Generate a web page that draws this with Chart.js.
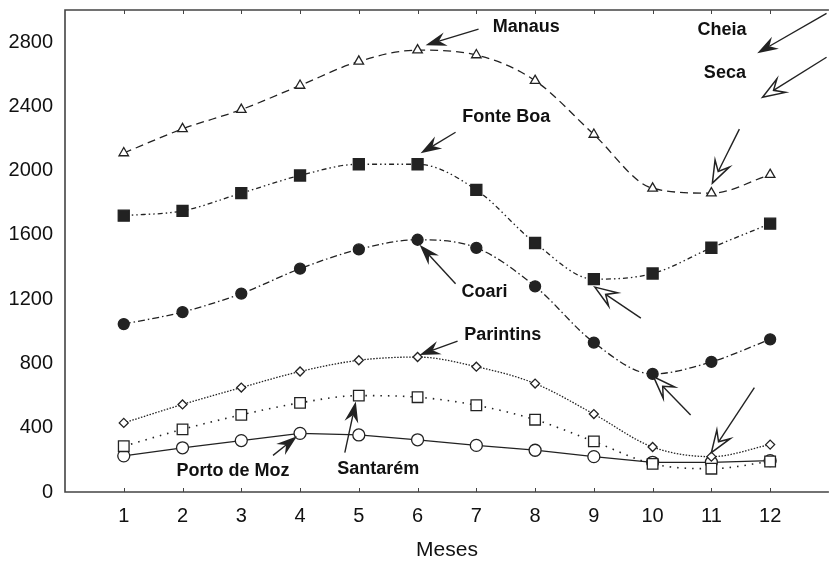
<!DOCTYPE html>
<html>
<head>
<meta charset="utf-8">
<title>Meses</title>
<script src="https://cdn.jsdelivr.net/npm/chart.js@4.4.1/dist/chart.umd.min.js"></script>
<style>
  html, body { margin: 0; padding: 0; background: #fff; overflow: hidden; }
  #wrap { width: 834px; height: 567px; overflow: hidden; }
</style>
</head>
<body>
<div id="wrap"><canvas id="myChart" width="838" height="567"></canvas></div>

<script>
// data
var meses = [1, 2, 3, 4, 5, 6, 7, 8, 9, 10, 11, 12];
var yTicks = [0, 400, 800, 1200, 1600, 2000, 2400, 2800];
var manaus = [2110, 2260, 2380, 2530, 2680, 2750, 2720, 2560, 2225, 1890, 1860, 1975];
var fonteBoa = [1720, 1750, 1860, 1970, 2040, 2040, 1880, 1550, 1325, 1360, 1520, 1670];
var coari = [1045, 1120, 1235, 1390, 1510, 1570, 1520, 1280, 930, 735, 810, 950];
var parintins = [430, 545, 650, 750, 820, 840, 780, 675, 485, 280, 220, 295];
var santarem = [285, 390, 480, 555, 600, 590, 540, 450, 315, 175, 145, 190];
var portoDeMoz = [225, 275, 320, 365, 355, 325, 290, 260, 220, 185, 185, 195];

var INK = '#222';

function pts(vals) {
  return vals.map(function (v, i) { return { x: meses[i], y: v }; });
}

// labels (value space)
var labels = [
  { text: 'Manaus', x: 7.85, y: 2892 },
  { text: 'Fonte Boa', x: 7.51, y: 2333 },
  { text: 'Coari', x: 7.14, y: 1244 },
  { text: 'Parintins', x: 7.45, y: 977 },
  { text: 'Porto de Moz', x: 2.86, y: 131 },
  { text: 'Santarém', x: 5.33, y: 143 },
  { text: 'Cheia', x: 11.18, y: 2874 },
  { text: 'Seca', x: 11.23, y: 2606 }
];

// arrows anchored to a data point (ds, i) with pixel offsets for tip and tail
var arrows = [
  { ds: 0, i: 5, tip: [8, -5], tail: [61, -21], filled: true },
  { ds: 1, i: 5, tip: [3, -11], tail: [38, -32], filled: true },
  { ds: 2, i: 5, tip: [2, 5], tail: [38, 44], filled: true },
  { ds: 3, i: 5, tip: [2, -2], tail: [40, -16], filled: true },
  { ds: 5, i: 3, tip: [-3, 3], tail: [-27, 22], filled: true },
  { ds: 4, i: 4, tip: [-3, 6], tail: [-14, 57], filled: true },
  { ds: 1, i: 8, tip: [1, 8], tail: [47, 39], filled: false },
  { ds: 2, i: 9, tip: [1, 3], tail: [38, 41], filled: false },
  { ds: 0, i: 10, tip: [1, -10], tail: [28, -64], filled: false },
  { ds: 3, i: 10, tip: [0, -4], tail: [43, -69], filled: false }
];
// key arrows (value space)
var keyArrows = [
  { tip: [11.78, 2731], tail: [12.96, 2979], filled: true },
  { tip: [11.87, 2457], tail: [12.96, 2706], filled: false }
];

function drawArrow(ctx, x0, y0, x1, y1, filled) {
  var ang = Math.atan2(y1 - y0, x1 - x0);
  var L = filled ? 21 : 22, hw = filled ? 7 : 8, notch = filled ? 7 : 9;
  ctx.save();
  ctx.strokeStyle = INK;
  ctx.lineWidth = 1.4;
  ctx.lineJoin = 'miter';
  ctx.setLineDash([]);
  ctx.beginPath();
  ctx.moveTo(x0, y0);
  ctx.lineTo(x1 - Math.cos(ang) * (L - notch), y1 - Math.sin(ang) * (L - notch));
  ctx.stroke();
  ctx.translate(x1, y1);
  ctx.rotate(ang);
  ctx.beginPath();
  ctx.moveTo(0, 0);
  ctx.lineTo(-L, -hw);
  ctx.lineTo(-(L - notch), 0);
  ctx.lineTo(-L, hw);
  ctx.closePath();
  if (filled) {
    ctx.fillStyle = INK;
    ctx.fill();
  } else {
    ctx.fillStyle = '#fff';
    ctx.fill();
    ctx.lineWidth = 1.5;
    ctx.stroke();
  }
  ctx.restore();
}

var frame = {
  id: 'frame',
  afterDatasetsDraw: function (chart) {
    var ctx = chart.ctx, a = chart.chartArea;
    var xs = chart.scales.x, ys = chart.scales.y;
    ctx.save();
    ctx.strokeStyle = '#444';
    ctx.lineWidth = 1.6;
    ctx.beginPath();
    ctx.moveTo(a.right, a.top);
    ctx.lineTo(a.left, a.top);
    ctx.lineTo(a.left, a.bottom);
    ctx.lineTo(a.right, a.bottom);
    ctx.stroke();
    ctx.lineWidth = 1;
    meses.forEach(function (m) {
      var px = Math.round(xs.getPixelForValue(m)) + 0.5;
      ctx.beginPath();
      ctx.moveTo(px, a.top); ctx.lineTo(px, a.top + 4);
      ctx.moveTo(px, a.bottom); ctx.lineTo(px, a.bottom - 4);
      ctx.stroke();
    });
    ctx.restore();

    arrows.forEach(function (ar) {
      var p = chart.getDatasetMeta(ar.ds).data[ar.i];
      drawArrow(ctx, p.x + ar.tail[0], p.y + ar.tail[1], p.x + ar.tip[0], p.y + ar.tip[1], ar.filled);
    });
    keyArrows.forEach(function (ar) {
      drawArrow(ctx, xs.getPixelForValue(ar.tail[0]), ys.getPixelForValue(ar.tail[1]),
        xs.getPixelForValue(ar.tip[0]), ys.getPixelForValue(ar.tip[1]), ar.filled);
    });

    ctx.save();
    ctx.fillStyle = '#111';
    ctx.font = 'bold 18px "Liberation Sans", Arial, sans-serif';
    ctx.textAlign = 'center';
    ctx.textBaseline = 'middle';
    labels.forEach(function (l) {
      ctx.fillText(l.text, xs.getPixelForValue(l.x), ys.getPixelForValue(l.y));
    });
    ctx.restore();
  }
};

function series(vals, style, radius, filled, dash, width, smooth) {
  return {
    data: pts(vals),
    borderColor: INK,
    borderWidth: width,
    borderDash: dash,
    tension: smooth ? 0.4 : 0,
    cubicInterpolationMode: smooth ? 'monotone' : 'default',
    pointStyle: style,
    pointRadius: radius,
    pointBorderWidth: 1.3,
    pointBorderColor: INK,
    pointBackgroundColor: filled ? INK : '#fff',
    fill: false
  };
}

var ctx = document.getElementById('myChart').getContext('2d');
var myChart = new Chart(ctx, {
  type: 'line',
  data: {
    datasets: [
      series(manaus, 'triangle', 5.5, false, [8, 5], 1.3, true),
      series(fonteBoa, 'rect', 7.8, true, [5, 3, 1.5, 3, 1.5, 3], 1.3, true),
      series(coari, 'circle', 5.5, true, [7, 3, 1.5, 3], 1.3, true),
      series(parintins, 'rectRot', 4.5, false, [1.5, 1.5], 1.3, true),
      series(santarem, 'rect', 7.5, false, [1.5, 6], 1.6, true),
      series(portoDeMoz, 'circle', 6, false, [], 1.3, false)
    ]
  },
  plugins: [frame],
  options: {
    responsive: false,
    animation: false,
    layout: { padding: { top: 10, right: 0, left: 0, bottom: 0 } },
    plugins: { legend: { display: false }, tooltip: { enabled: false } },
    scales: {
      x: {
        type: 'linear',
        min: 0,
        max: 13,
        afterBuildTicks: function (s) { s.ticks = meses.map(function (v) { return { value: v }; }); },
        afterFit: function (s) { s.height = 75; s.paddingLeft = 0; s.paddingRight = 0; },
        grid: { display: false, drawTicks: false },
        border: { display: false },
        ticks: {
          padding: 12,
          color: '#111',
          callback: function (v) { return String(v); },
          font: { family: '"Liberation Sans", Arial, sans-serif', size: 20 }
        },
        title: {
          display: true,
          text: 'Meses',
          color: '#111',
          padding: { top: 16 },
          font: { family: '"Liberation Sans", Arial, sans-serif', size: 21 }
        }
      },
      y: {
        min: 0,
        max: 3000,
        afterBuildTicks: function (s) { s.ticks = yTicks.map(function (v) { return { value: v }; }); },
        afterFit: function (s) { s.width = 65; s.paddingTop = 0; s.paddingBottom = 0; },
        grid: { display: false, drawTicks: false },
        border: { display: false },
        ticks: {
          padding: 12,
          color: '#111',
          callback: function (v) { return String(v); },
          font: { family: '"Liberation Sans", Arial, sans-serif', size: 20 }
        }
      }
    }
  }
});
</script>
</body>
</html>
